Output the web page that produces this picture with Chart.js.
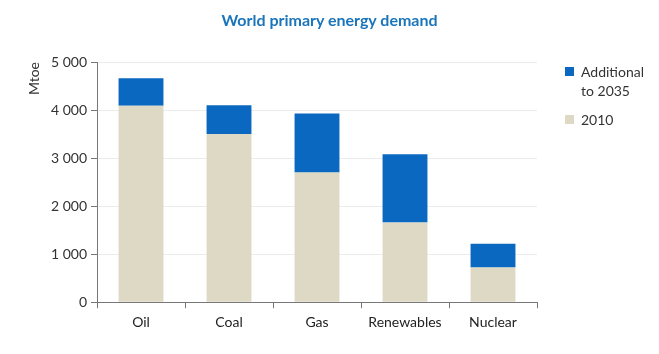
<!DOCTYPE html>
<html>
<head>
<meta charset="utf-8">
<script src="https://cdn.jsdelivr.net/npm/chart.js@4"></script>
<style>
  html, body { margin: 0; padding: 0; background: #fff; }
  #wrap { position: relative; width: 659px; height: 354px; }
  #title { position: absolute; left: 0; top: 10px; width: 659px; text-align: center; font-family: Lato, sans-serif; font-size: 16px; font-weight: bold; color: #1a75bb; }
  #legend { position: absolute; left: 565px; top: 62px; font-family: Lato, sans-serif; font-size: 14px; color: #333; }
  .item { position: relative; padding-left: 16px; line-height: 19px; margin-bottom: 10px; }
  .box { position: absolute; left: 0; top: 5px; width: 9px; height: 9px; }
</style>
</head>
<body>
<div id="wrap">
  <canvas id="chart" width="659" height="354"></canvas>
  <div id="title">World primary energy demand</div>
  <div id="legend"></div>
</div>
<script>
const categories = ["Oil", "Coal", "Gas", "Renewables", "Nuclear"]
const demand2010 = [4090, 3500, 2700, 1660, 720]
const additionalTo2035 = [570, 600, 1230, 1420, 495]
const yTicks = [0, 1000, 2000, 3000, 4000, 5000]

const blue = "#0b68c0"
const beige = "#ddd9c4"

// legend drawn as html, blue item first like the original
const legendItems = [
  { label: ["Additional", "to 2035"], color: blue },
  { label: ["2010"], color: beige }
]
document.getElementById("legend").innerHTML = legendItems
  .map((it) => `<div class="item"><span class="box" style="background:${it.color}"></span>${it.label.join("<br>")}</div>`)
  .join("")

const ctx = document.getElementById("chart").getContext("2d")
new Chart(ctx, {
  type: "bar",
  data: {
    labels: categories,
    datasets: [
      { label: "2010", data: demand2010, backgroundColor: beige },
      { label: "Additional to 2035", data: additionalTo2035, backgroundColor: blue }
    ]
  },
  options: {
    responsive: false,
    animation: false,
    layout: { padding: { left: 26, right: 122, top: 62, bottom: 17 } },
    datasets: { bar: { barPercentage: 0.51, categoryPercentage: 1 } },
    plugins: {
      legend: { display: false },
      tooltip: { enabled: false }
    },
    scales: {
      x: {
        stacked: true,
        grid: { drawOnChartArea: false, tickLength: 6, color: "#777" },
        border: { color: "#777" },
        ticks: { color: "#222", font: { family: "Lato", size: 14 }, padding: 6 }
      },
      y: {
        stacked: true,
        min: 0,
        max: 5000,
        afterBuildTicks: (scale) => { scale.ticks = yTicks.map((v) => ({ value: v })) },
        afterFit: (scale) => { scale.width = 71 },
        grid: { color: "#ececec", tickColor: "#777", tickLength: 6 },
        border: { color: "#777" },
        title: { display: true, text: "Mtoe", color: "#333", font: { family: "Lato", size: 14 }, align: "end", padding: { top: 0, bottom: 0 } },
        ticks: {
          color: "#333",
          font: { family: "Lato", size: 14 },
          padding: 4,
          callback: (v) => String(v).replace(/\B(?=(\d{3})+(?!\d))/g, " ")
        }
      }
    }
  }
})
</script>
</body>
</html>
